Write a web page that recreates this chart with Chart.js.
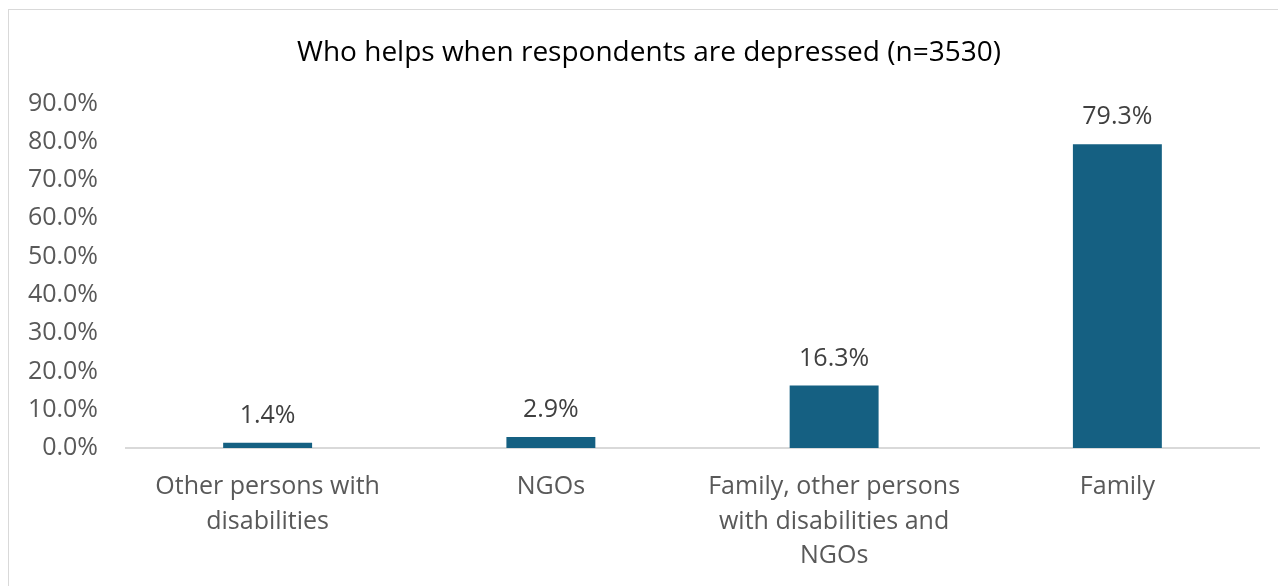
<!DOCTYPE html>
<html lang="en">
<head>
    <meta charset="UTF-8">
    <title>Who helps when respondents are depressed</title>
    <script src="https://cdn.jsdelivr.net/npm/chart.js@4/dist/chart.umd.min.js"></script>
    <style>
        body { margin: 0; background: #fff; overflow: hidden; }
        #frame {
            position: absolute; left: 8px; top: 9px;
            width: 1300px; height: 620px;
            border: 1px solid #d9d9d9;
        }
        #wrap { position: absolute; left: 0; top: 0; width: 1278px; height: 586px; }
    </style>
</head>
<body>
    <div id="frame"></div>
    <div id="wrap"><canvas id="myChart"></canvas></div>

    <script>
        const categories = [
            ['Other persons with', 'disabilities'],
            'NGOs',
            ['Family, other persons', 'with disabilities and', 'NGOs'],
            'Family'
        ];
        const shares = [1.4, 2.9, 16.3, 79.3];
        const yTicks = [0, 10, 20, 30, 40, 50, 60, 70, 80, 90];

        const FONT = '"Open Sans", "Noto Sans", sans-serif';

        // write the value above each bar
        const barLabels = {
            id: 'barLabels',
            afterLayout(chart) {
                // title sits a little right of the canvas centre in the original
                if (chart.titleBlock) chart.titleBlock.left = 39;
            },
            afterDatasetsDraw(chart) {
                const ctx = chart.ctx;
                const meta = chart.getDatasetMeta(0);
                ctx.save();
                ctx.font = '25px ' + FONT;
                ctx.fillStyle = '#404040';
                ctx.textAlign = 'center';
                ctx.textBaseline = 'middle';
                meta.data.forEach((bar, i) => {
                    ctx.fillText(shares[i].toFixed(1) + '%', bar.x, bar.y - 27);
                });
                ctx.restore();
            }
        };

        const chart = new Chart('myChart', {
            type: 'bar',
            data: {
                labels: categories,
                datasets: [{
                    data: shares,
                    backgroundColor: '#156082',
                    categoryPercentage: 1,
                    barPercentage: 0.314
                }]
            },
            plugins: [barLabels],
            options: {
                responsive: true,
                maintainAspectRatio: false,
                animation: false,
                layout: { padding: { left: 0, right: 19, top: 0, bottom: 0 } },
                plugins: {
                    legend: { display: false },
                    tooltip: { enabled: false },
                    title: {
                        display: true,
                        text: 'Who helps when respondents are depressed (n=3530)',
                        color: '#000',
                        font: { family: FONT, size: 28, weight: 'normal', lineHeight: 1.2 },
                        padding: { top: 36.2, bottom: 33.6 }
                    }
                },
                scales: {
                    x: {
                        grid: { display: false, drawTicks: false },
                        border: { display: true, color: '#d9d9d9', width: 2 },
                        ticks: {
                            color: '#595959',
                            font: { family: FONT, size: 25, lineHeight: 1.38 },
                            padding: 22,
                            maxRotation: 0,
                            autoSkip: false
                        },
                        afterFit: (scale) => { scale.height = 138; }
                    },
                    y: {
                        min: 0,
                        max: 90,
                        afterBuildTicks: (scale) => { scale.ticks = yTicks.map(v => ({ value: v })); },
                        grid: { display: false, drawTicks: false },
                        border: { display: false },
                        ticks: {
                            color: '#595959',
                            font: { family: FONT, size: 25 },
                            padding: 28,
                            callback: (v) => v.toFixed(1) + '%'
                        },
                        afterFit: (scale) => { scale.width = 126; }
                    }
                }
            }
        });
    </script>
</body>
</html>
